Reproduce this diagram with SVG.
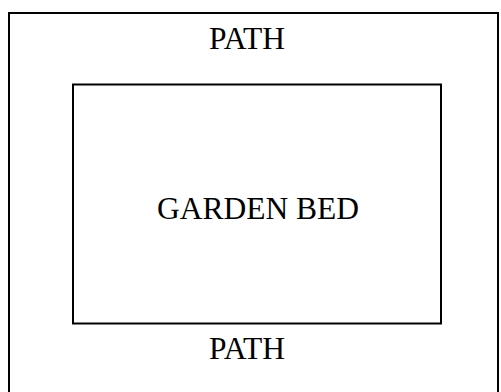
<svg xmlns="http://www.w3.org/2000/svg" width="501" height="392" viewBox="0 0 501 392">
  <style>
    .box { fill: none; stroke: #000; stroke-width: 2; }
    .lbl { font-family: "Liberation Serif", "Times New Roman", serif; font-size: 31.5px; fill: #000; text-anchor: middle; }
  </style>
  <rect width="501" height="392" fill="#fff"/>
  <!-- outer path area -->
  <g id="path-area">
    <rect class="box" x="9" y="13" width="489" height="400"/>
    <text class="lbl" x="247" y="48.5">PATH</text>
    <text class="lbl" x="247" y="358.5">PATH</text>
  </g>
  <!-- inner garden bed -->
  <g id="garden-bed">
    <rect class="box" x="73" y="84.5" width="368" height="239"/>
    <text class="lbl" x="258" y="219">GARDEN BED</text>
  </g>
  <g id="connectors"></g>
</svg>
